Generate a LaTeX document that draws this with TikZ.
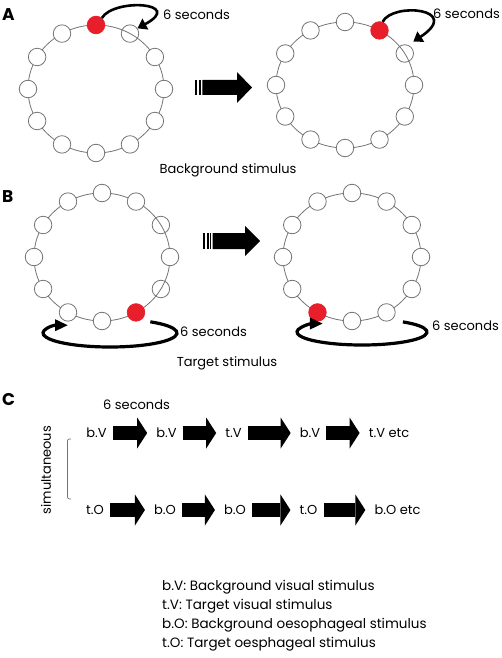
\documentclass[tikz,border=0pt]{standalone}
\usepackage{fontspec}
\setmainfont{Poppins}
\usepackage{tikz}
\usetikzlibrary{arrows.meta,positioning,calc}

\definecolor{ringgray}{RGB}{115,115,115}
\definecolor{stimred}{RGB}{232,30,42}

\begin{document}
\begin{tikzpicture}[
    x=1pt, y=-1pt,
    font=\fontsize{13}{15}\selectfont,
    ring/.style={draw=ringgray, line width=0.8pt},
    dot/.style={circle, draw=ringgray, fill=white, line width=0.8pt, minimum size=17.5pt, inner sep=0pt},
    hollow/.style={dot, fill=none},
    lit/.style={dot, draw=stimred, fill=stimred},
    swing/.style={line width=2.6pt, -{Triangle[length=9pt, width=12pt]}},
    sweep/.style={line width=3.2pt, -{Triangle[length=13pt, width=11pt]}},
    blockarrow/.style={line width=14pt, -{Triangle[length=10pt, width=31pt, line width=0pt]}, shorten <=6pt, shorten >=9pt},
    panel/.style={font=\fontsize{17}{17}\selectfont\bfseries, anchor=north west, inner sep=0pt},
    item/.style={inner sep=0pt}
]
    \useasboundingbox (0,0) rectangle (502,658);

    % Panel letters
    \node[panel] (pa) at (2,8) {A};
    \node[panel] (pb) at (2,190) {B};
    \node[panel] (pc) at (2,393) {C};

    % A: background stimulus, left ring
    \coordinate (ca1) at (96,89);
    \draw[ring] (ca1) ellipse[x radius=68, y radius=64];
    \foreach \a/\s in {0/dot,30/dot,60/dot,90/dot,120/dot,150/dot,180/dot,210/dot,240/dot,270/lit,300/hollow,330/dot}
        \node[\s] (a1-\a) at ($(ca1)+({68*cos(\a)},{64*sin(\a)})$) {};

    % A: right ring
    \coordinate (ca2) at (345,85);
    \draw[ring] (ca2) ellipse[x radius=69, y radius=63];
    \foreach \a/\s in {0/dot,30/dot,60/dot,90/dot,120/dot,150/dot,180/dot,210/dot,240/dot,270/dot,300/lit,330/hollow}
        \node[\s] (a2-\a) at ($(ca2)+({69*cos(\a)},{63*sin(\a)})$) {};

    \draw[swing] (a1-270.50) .. controls +(12,-20) and +(48,-26) .. (a1-300.35);
    \draw[swing] (a2-300.70) .. controls +(10,-20) and +(50,-33) .. ([shift={(4pt,4pt)}]a2-330.60);
    \node[item, anchor=west] (sa1) at (163,15) {6 seconds};
    \node[item, anchor=west] (sa2) at (433,14) {6 seconds};

    % A: block arrow
    \fill (195,80) rectangle (197.3,95);
    \fill (198.7,80) rectangle (201,95);
    \fill (202.3,80) -- (237,80) -- (237,72) -- (252,87.5) -- (237,103) -- (237,95) -- (202.3,95) -- cycle;
    \node (bg) at (228,170) {Background stimulus};

    % B: target stimulus, left ring
    \coordinate (cb1) at (102,257);
    \draw[ring] (cb1) ellipse[x radius=68, y radius=64];
    \foreach \a/\s in {0/dot,30/hollow,60/lit,90/dot,120/dot,150/dot,180/dot,210/dot,240/dot,270/dot,300/dot,330/hollow}
        \node[\s] (b1-\a) at ($(cb1)+({68*cos(\a)},{64*sin(\a)})$) {};

    % B: right ring
    \coordinate (cb2) at (352,257);
    \draw[ring] (cb2) ellipse[x radius=69, y radius=64];
    \foreach \a/\s in {0/dot,30/dot,60/dot,90/dot,120/lit,150/dot,180/dot,210/dot,240/dot,270/dot,300/dot,330/dot}
        \node[\s] (b2-\a) at ($(cb2)+({69*cos(\a)},{64*sin(\a)})$) {};

    \coordinate (eb1) at (110,333);
    \coordinate (eb2) at (362,332);
    \draw[sweep] ($(eb1)+(-53:67 and 14)$) arc[start angle=-53, end angle=200, x radius=67, y radius=14]
        .. controls +(7,-4) and +(-10,0) .. ++(21,-3);
    \draw[sweep] ($(eb2)+(-51:65 and 13)$) arc[start angle=-51, end angle=200, x radius=65, y radius=13]
        .. controls +(7,-4) and +(-10,0) .. ++(22,-4);
    \node[item, anchor=west] (sb1) at (180,332) {6 seconds};
    \node[item, anchor=west] (sb2) at (432,326) {6 seconds};

    % B: block arrow
    \fill (203,233) rectangle (205,249);
    \fill (206.5,233) rectangle (208.5,249);
    \fill (209.7,233) rectangle (211.3,249);
    \fill (212.5,233) -- (245,233) -- (245,226) -- (260,241) -- (245,256) -- (245,249) -- (212.5,249) -- cycle;
    \node (tg) at (227,363) {Target stimulus};

    % C: sequences
    \node[item] (bv1) at (96.5,433) {b.V};
    \node[item] (bv2) at (166.5,433) {b.V};
    \node[item] (tv1) at (233.5,433) {t.V};
    \node[item] (bv3) at (310,433) {b.V};
    \node[item] (tv2) at (389,433) {t.V etc};

    \node[item] (to1) at (95,510) {t.O};
    \node[item] (bo1) at (165,510) {b.O};
    \node[item] (bo2) at (235,510) {b.O};
    \node[item] (to2) at (308.5,510) {t.O};
    \node[item] (bo3) at (397.5,510) {b.O etc};

    \draw[blockarrow] (bv1) -- (bv2);
    \draw[blockarrow] (bv2) -- (tv1);
    \draw[blockarrow] (tv1) -- (bv3);
    \draw[blockarrow] (bv3) -- (tv2);
    \draw[blockarrow] (to1) -- (bo1);
    \draw[blockarrow] (bo1) -- (bo2);
    \draw[blockarrow] (bo2) -- (to2);
    \draw[blockarrow] (to2) -- (bo3);

    \node[item, anchor=west] (sc) at (103,405) {6 seconds};

    % Bracket
    \draw[ringgray, line width=0.7pt, rounded corners=2pt] (71,439) -- (67.5,439) -- (67.5,499) -- (71,499);
    \node[rotate=90] (sim) at (46,470) {simultaneous};

    % Key
    \node[anchor=north west, align=left, inner sep=0pt, font=\fontsize{13.5}{19}\selectfont] (key) at (162,580)
        {b.V: Background visual stimulus\\
         t.V: Target visual stimulus\\
         b.O: Background oesophageal stimulus\\
         t.O: Target oesphageal stimulus};

\end{tikzpicture}
\end{document}
